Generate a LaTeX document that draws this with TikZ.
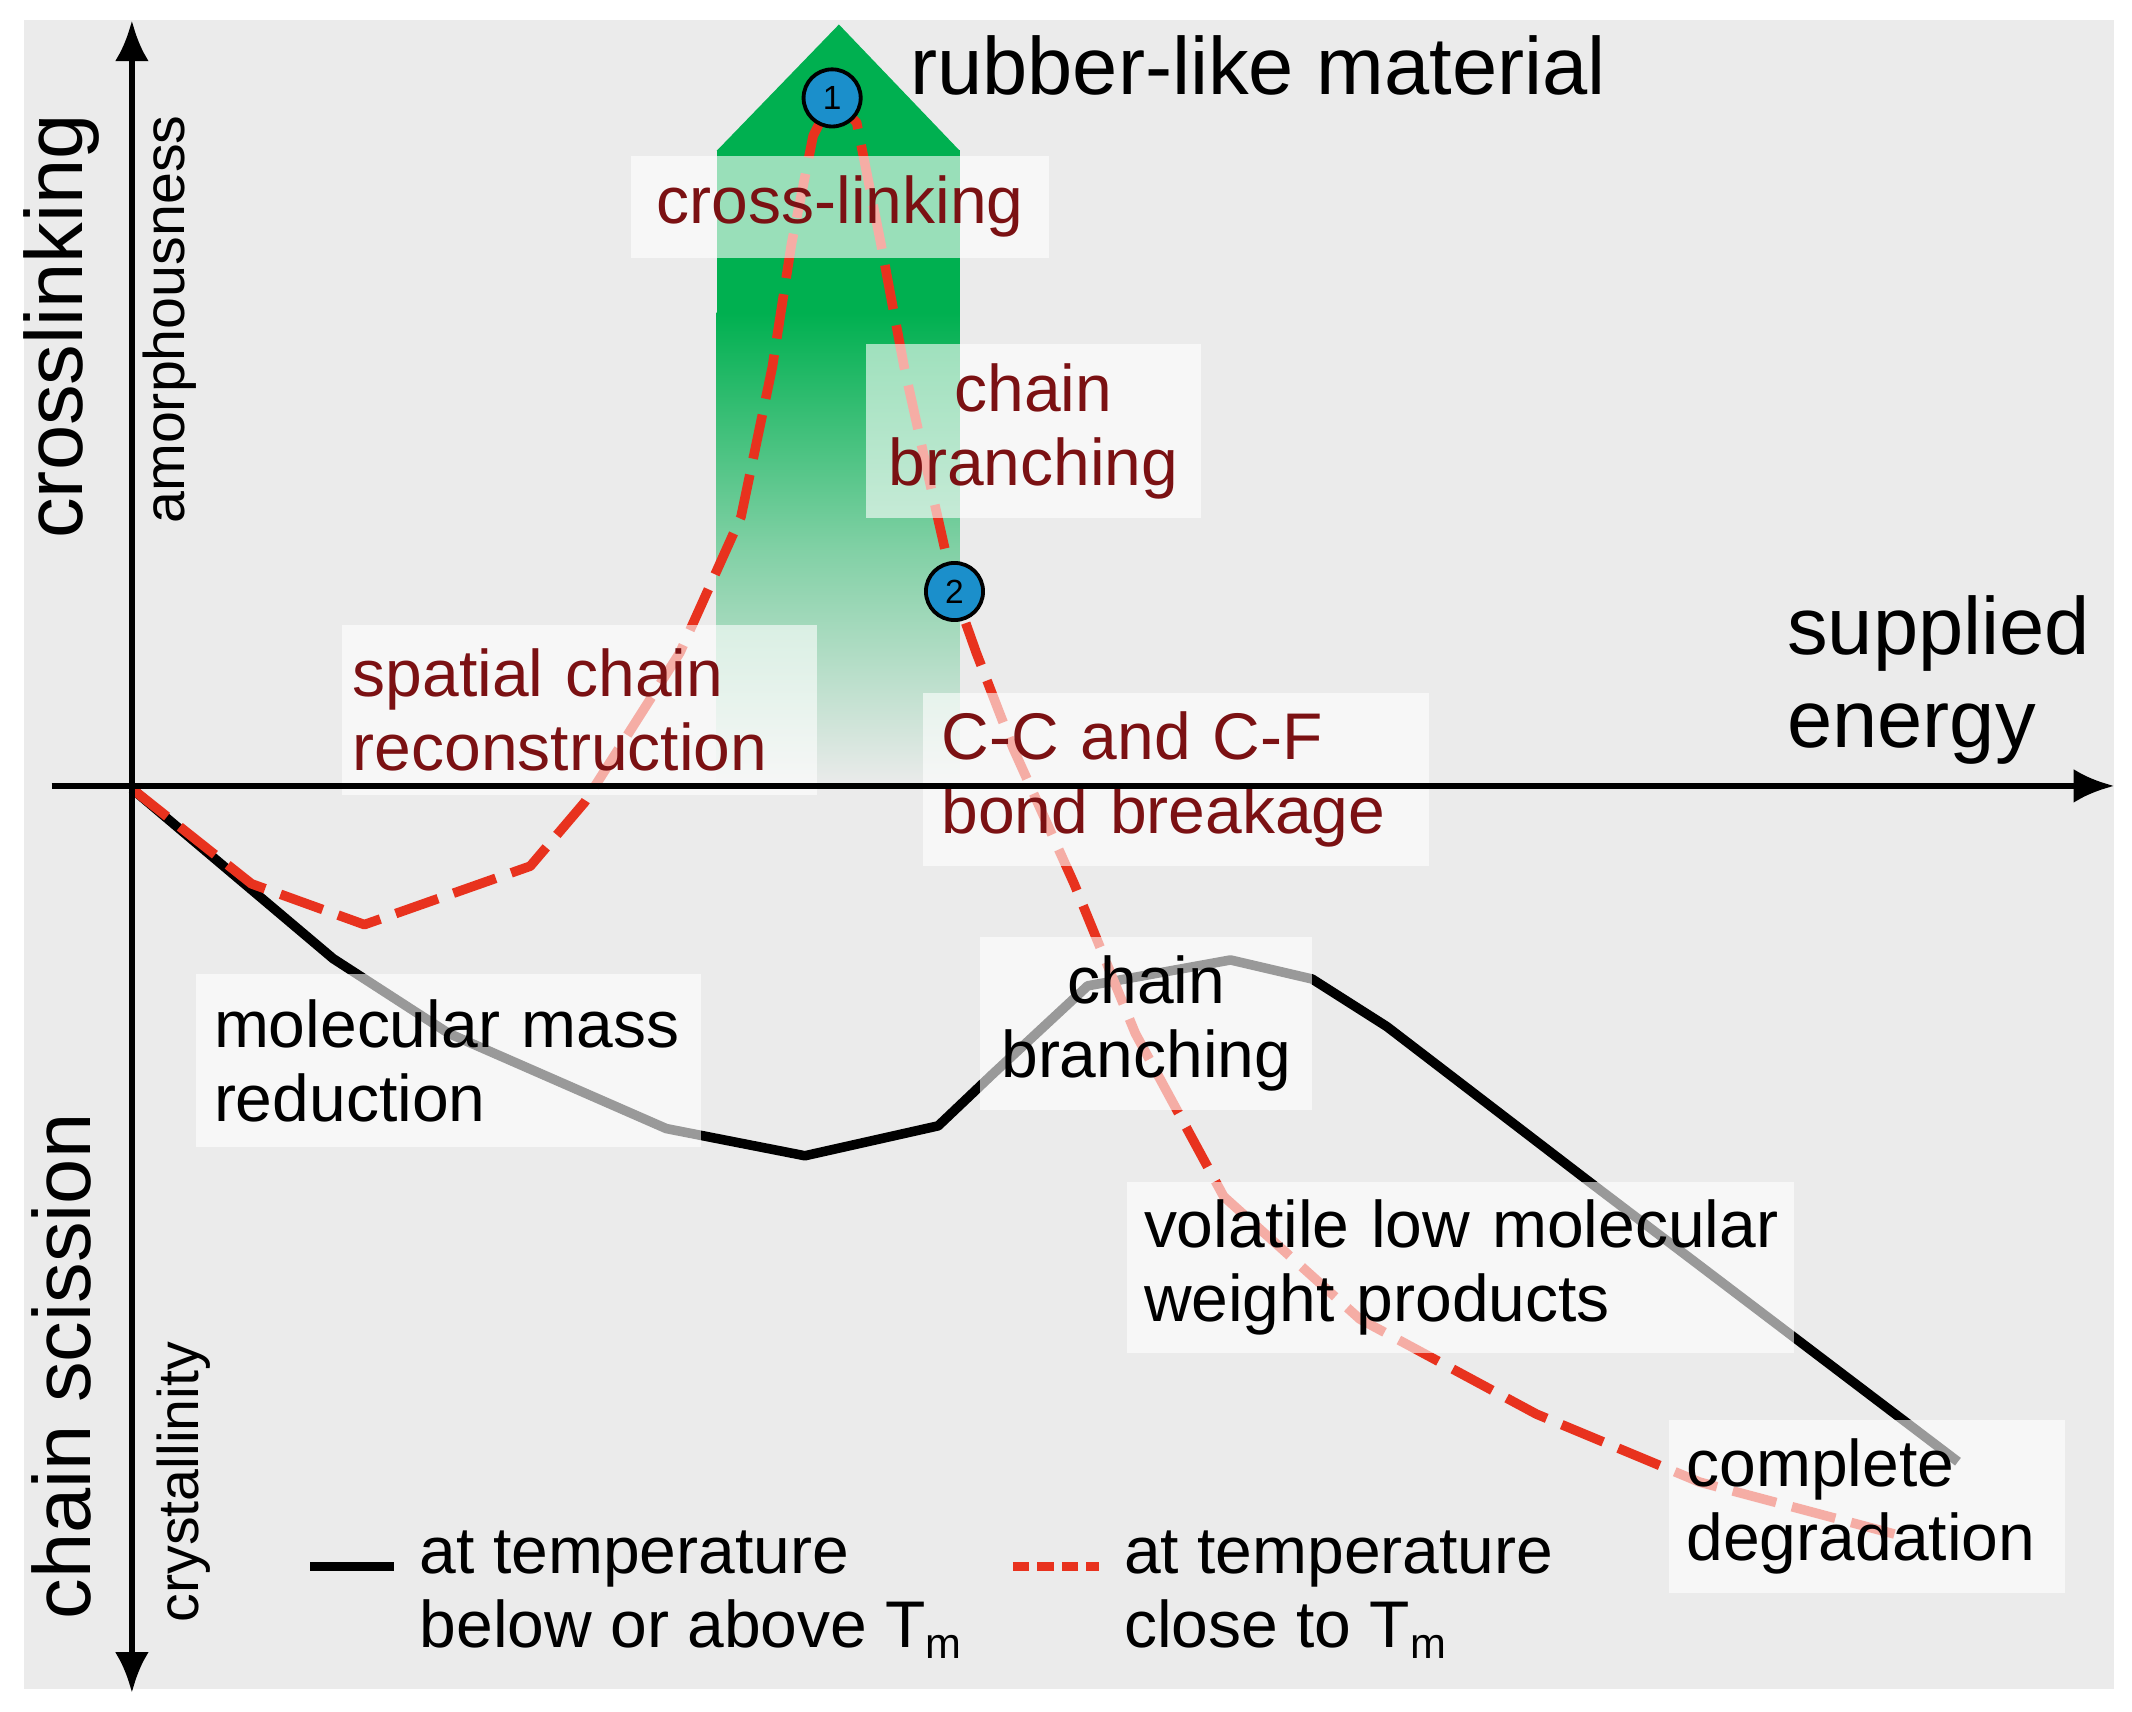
\documentclass[tikz,border=0pt]{standalone}
\usepackage{fontspec}
\setmainfont{Liberation Sans}
\usetikzlibrary{arrows.meta}
\definecolor{bg}{HTML}{EBEBEB}
\definecolor{dred}{HTML}{7B1113}
\definecolor{lred}{HTML}{E8321E}
\definecolor{gr}{HTML}{00B050}
\definecolor{cblue}{HTML}{1B8FCB}
\begin{document}
\begin{tikzpicture}[x=0.01cm,y=-0.01cm,
  lbl/.style={fill=white,fill opacity=0.6,text opacity=1,inner sep=0pt,font=\fontsize{13.8}{15.5}\selectfont},
  big/.style={font=\fontsize{17}{19.5}\selectfont},
  small/.style={font=\fontsize{12}{13}\selectfont},
  blk/.style={line width=2pt,black,line join=round},
  rdash/.style={line width=2pt,lred,dash pattern=on 0.33cm off 0.12cm,line join=round},
  ax/.style={line width=1.3pt,-{Latex[length=0.3cm,width=0.25cm]}},
  num/.style={circle,draw=black,fill=cblue,line width=0.8pt,minimum size=0.42cm,inner sep=0pt,font=\fontsize{7}{8}\selectfont}]
\useasboundingbox (0,0) rectangle (1568,1259);
\fill[white] (0,0) rectangle (1568,1259);
\fill[bg] (18,15) rectangle (1555,1242);
% green arrow
\shade[top color=gr,bottom color=bg,middle color=gr!45!bg] (527,230) rectangle (706,578);
\fill[gr] (527,110) rectangle (706,231);
\fill[gr] (527,111) -- (617,18) -- (706,111) -- cycle;
% curves
\draw[blk] (97,580) -- (245,705) -- (330,760) -- (410,795) -- (490,830) -- (592,850) -- (690,828) -- (730,790) -- (800,725) -- (905,706) -- (965,720) -- (1020,755) -- (1170,870) -- (1440,1075);
\draw[rdash] (97,580) -- (185,650) -- (268,680) -- (390,637) -- (430,590) -- (500,480) -- (545,380) -- (568,270) -- (582,180) -- (598,100) -- (612,72) -- (630,90) -- (648,180) -- (665,270) -- (685,360) -- (702,435) -- (718,480) -- (745,550) -- (790,650) -- (835,760) -- (900,880) -- (1000,970) -- (1130,1040) -- (1250,1090) -- (1400,1130);
% labels
\node[lbl,minimum width=3.07cm,minimum height=0.75cm] (cl) at (618,152) {\color{dred}cross-linking};
\node[lbl,minimum width=2.46cm,minimum height=1.28cm,align=center] (cb1) at (760,317) {\color{dred}chain\\\color{dred}branching};
\node[lbl,minimum width=3.49cm,minimum height=1.25cm,align=left,text width=3.33cm] (sc) at (426,522) {\color{dred}spatial chain\\\color{dred}reconstruction};
\node[lbl,minimum width=3.72cm,minimum height=1.27cm,align=left,text width=3.45cm] (cc) at (865,573) {\color{dred}C-C and C-F\\\color{dred}bond breakage};
\node[lbl,minimum width=3.71cm,minimum height=1.27cm,align=left,text width=3.45cm] (mm) at (330,780) {molecular mass\\reduction};
\node[lbl,minimum width=2.44cm,minimum height=1.27cm,align=center] (cb2) at (843,753) {chain\\branching};
\node[lbl,minimum width=4.90cm,minimum height=1.26cm,align=left,text width=4.65cm] (vl) at (1074,932) {\mbox{volatile low molecular}\\weight products};
\node[lbl,minimum width=2.91cm,minimum height=1.27cm,align=left,text width=2.65cm] (cd) at (1373,1108) {complete\\degradation};
% markers
\node[num] (n1) at (612,72) {1};
\node[num] (n2) at (702,435) {2};
% axes
\coordinate (yb) at (97,1245); \coordinate (yt) at (97,15);
\coordinate (xl) at (38,578); \coordinate (xr) at (1555,578);
\draw[ax,{Latex[length=0.3cm,width=0.25cm]}-{Latex[length=0.3cm,width=0.25cm]}] (yb) -- (yt);
\draw[ax] (xl) -- (xr);
% titles
\node[big,anchor=west] (rb) at (657,48) {rubber-like material};
\node[big,align=left,anchor=west] (se) at (1302,500) {supplied\\energy};
\node[big,rotate=90] (xl1) at (45,240) {crosslinking};
\node[big,rotate=90] (xl2) at (45,1005) {chain scission};
\node[small,rotate=90] (am) at (125,235) {amorphousness};
\node[small,rotate=90] (cr) at (135,1090) {crystallinity};
% legend
\coordinate (l1a) at (228,1152); \coordinate (l1b) at (290,1152);
\coordinate (l2a) at (745,1152); \coordinate (l2b) at (808,1152);
\draw[blk] (l1a) -- (l1b);
\draw[line width=2pt,lred,dash pattern=on 0.12cm off 0.06cm] (l2a) -- (l2b);
\node[lbl,fill opacity=0,anchor=north west,align=left] (t1) at (308,1125) {at temperature\\below or above T{\fontsize{9}{10}\selectfont\raisebox{-0.5ex}{m}}};
\node[lbl,fill opacity=0,anchor=north west,align=left] (t2) at (826,1125) {at temperature\\close to T{\fontsize{9}{10}\selectfont\raisebox{-0.5ex}{m}}};
\end{tikzpicture}
\end{document}
